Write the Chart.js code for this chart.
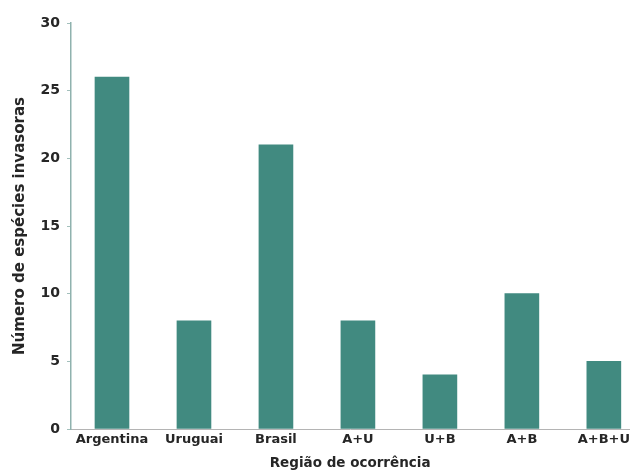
<!DOCTYPE html>
<html>
<head>
<meta charset="utf-8">
<script src="https://cdn.jsdelivr.net/npm/chart.js@4"></script>
<style>
  html, body { margin: 0; padding: 0; background: #fff; }
  #wrap { width: 633px; height: 472px; }
</style>
</head>
<body>
<div id="wrap"><canvas id="chart" width="633" height="472"></canvas></div>
<script>
// data
const regions = ["Argentina", "Uruguai", "Brasil", "A+U", "U+B", "A+B", "A+B+U"];
const speciesCount = [26, 8, 21, 8, 4, 10, 5];
const yTicks = [0, 5, 10, 15, 20, 25, 30];

const barColor = "#418a80";
const textColor = "#262626";

const ctx = document.getElementById("chart").getContext("2d");

new Chart(ctx, {
  type: "bar",
  data: {
    datasets: [
      {
        data: regions.map((r, i) => ({ x: i, y: speciesCount[i] })),
        backgroundColor: barColor,
        borderWidth: 0,
        barThickness: 34,
      },
    ],
  },
  options: {
    responsive: false,
    animation: false,
    layout: { padding: { top: 23, right: 0, bottom: 0, left: 0 } },
    plugins: {
      legend: { display: false },
      tooltip: { enabled: false },
    },
    scales: {
      x: {
        type: "linear",
        offset: false,
        min: -0.5,
        max: 6.31,
        afterBuildTicks: (scale) => {
          scale.ticks = regions.map((r, i) => ({ value: i }));
        },
        afterFit: (scale) => {
          scale.height = 43;
        },
        grid: { display: false, drawTicks: false },
        border: { display: true, color: "#b4b4b4", width: 1 },
        ticks: {
          autoSkip: false,
          maxRotation: 0,
          padding: 3,
          color: textColor,
          font: { family: "DejaVu Sans", size: 13, weight: "bold" },
          callback: (v) => regions[v],
        },
        title: {
          display: true,
          text: "Região de ocorrência",
          color: textColor,
          padding: { top: 2, bottom: 0 },
          font: { family: "DejaVu Sans", size: 13.5, weight: "bold" },
        },
      },
      y: {
        min: 0,
        max: 30,
        afterBuildTicks: (scale) => {
          scale.ticks = yTicks.map((v) => ({ value: v }));
        },
        afterFit: (scale) => {
          scale.width = 71;
        },
        grid: {
          drawOnChartArea: false,
          drawTicks: true,
          tickLength: 4,
          color: "#a3c0bc",
        },
        border: { display: true, color: "#8fb2ae", width: 1.5 },
        ticks: {
          padding: 7,
          color: textColor,
          font: { family: "DejaVu Sans", size: 14, weight: "bold" },
        },
        title: {
          display: true,
          text: "Número de espécies invasoras",
          color: textColor,
          padding: { top: 11, bottom: 0 },
          font: { family: "DejaVu Sans", size: 15, weight: "bold" },
        },
      },
    },
  },
});
</script>
</body>
</html>
